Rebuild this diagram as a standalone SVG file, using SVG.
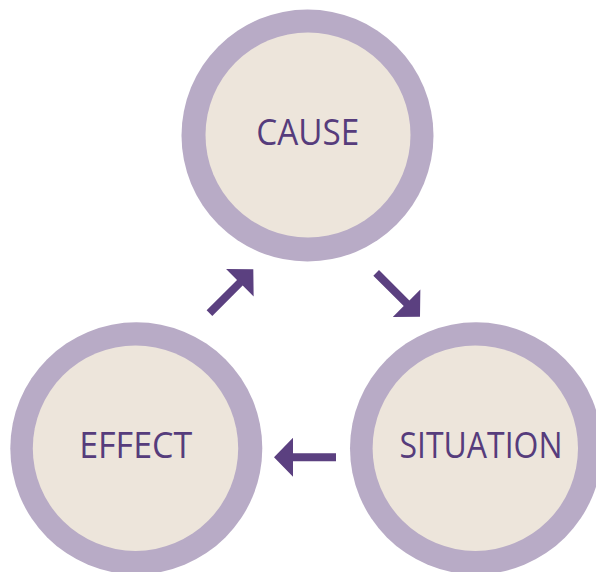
<svg xmlns="http://www.w3.org/2000/svg" width="596" height="572" viewBox="0 0 596 572">
<style>
.outer{fill:#B8ABC6}
.inner{fill:#EDE5DB}
.lbl{font-family:"Open Sans","Liberation Sans",sans-serif;font-size:36px;fill:#563C7C;text-anchor:middle}
.arr{fill:#5B4080}
</style>
<defs>
<polygon id="arrow" points="-62,-4 -19,-4 -19,-19.5 0,0 -19,19.5 -19,4 -62,4"/>
</defs>
<rect width="596" height="572" fill="#FFFFFF"/>
<g id="cause">
<circle class="outer" cx="307.5" cy="135.5" r="126"/>
<circle class="inner" cx="308" cy="135" r="102.5"/>
<text class="lbl" x="307.7" y="145" textLength="103" lengthAdjust="spacingAndGlyphs">CAUSE</text>
</g>
<g id="effect">
<circle class="outer" cx="136.3" cy="448.3" r="126"/>
<circle class="inner" cx="135.5" cy="448.2" r="102.7"/>
<text class="lbl" x="135.7" y="458.3" textLength="113" lengthAdjust="spacingAndGlyphs">EFFECT</text>
</g>
<g id="situation">
<circle class="outer" cx="476" cy="448.3" r="126"/>
<circle class="inner" cx="475.3" cy="448.2" r="102.7"/>
<text class="lbl" x="481" y="457.7" textLength="163" lengthAdjust="spacingAndGlyphs">SITUATION</text>
</g>
<g id="connectors" class="arr">
<use href="#arrow" transform="translate(253.3,269.3) rotate(-45)"/>
<use href="#arrow" transform="translate(420,316.7) rotate(45)"/>
<use href="#arrow" transform="translate(274,457.3) rotate(180)"/>
</g>
</svg>
